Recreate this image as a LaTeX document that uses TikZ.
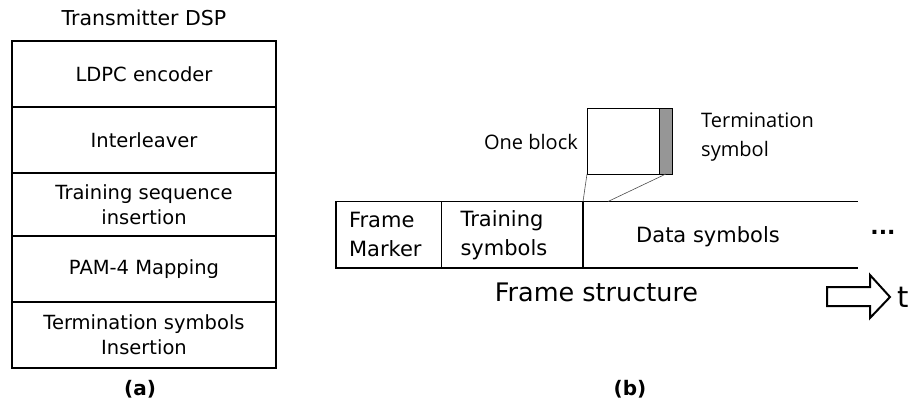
\documentclass[tikz,border=0pt]{standalone}
\usepackage{fontspec}
\setmainfont{DejaVu Sans}
\newfontfamily\blockfont{Open Sans}
\definecolor{termgray}{RGB}{150,150,150}
\tikzset{
  dspbox/.style={draw,line width=1.6pt,minimum width=264pt,inner sep=0pt,outer sep=0pt,
    align=center,font=\fontsize{19.5}{25}\selectfont},
  cell/.style={draw,line width=1.1pt,minimum height=66.5pt,inner ysep=0pt,outer sep=0pt,
    align=left,font=\fontsize{21}{29}\selectfont},
  blockbox/.style={draw,line width=0.9pt,minimum height=66pt,inner sep=0pt,outer sep=0pt},
  caption/.style={font=\fontsize{20}{24}\selectfont\bfseries}
}
\begin{document}
\begin{tikzpicture}[x=1pt,y=-1pt]
      \useasboundingbox (0,0) rectangle (912,409);
      \draw
        (144,18) node[font=\fontsize{20.5}{24}\selectfont] (title){Transmitter DSP}
        (144,74) node[dspbox,minimum height=66pt] (ldpc){LDPC encoder}
        (144,140) node[dspbox,minimum height=66pt] (intlv){Interleaver}
        (144,204.5) node[dspbox,minimum height=63pt] (train){Training sequence\\insertion}
        (144,269) node[dspbox,minimum height=66pt] (pam){PAM-4 Mapping}
        (144,335) node[dspbox,minimum height=66pt] (termins){Termination symbols\\Insertion}
        (140,389) node[caption] (capa){(a)};
      \draw
        (388.75,234.75) node[cell,inner xsep=13pt,text width=79.5pt] (marker){Frame\\Marker}
        (512.25,234.75) node[cell,inner xsep=19pt,text width=103.5pt] (trsym){Training\\symbols}
        (708,237) node[font=\fontsize{21}{29}\selectfont] (data){Data symbols}
        (883,232) node[font=\fontsize{22}{26}\selectfont\bfseries] (dots){...}
        (596.5,292) node[font=\fontsize{25.5}{30}\selectfont] (fstruct){Frame structure}
        (897,297) node[anchor=west,inner sep=0pt,font=\fontsize{29}{32}\selectfont] (time){t}
        (630,389) node[caption] (capb){(b)};
      \coordinate (dtop) at (858,201.5);
      \coordinate (dbot) at (858,268);
      \coordinate (split) at (608,201.5);
      \draw
        (623,141) node[blockbox,minimum width=72pt] (blk){}
        (blk.east) node[blockbox,anchor=west,minimum width=13.7pt,fill=termgray] (tsym){}
        (578,142) node[anchor=east,inner sep=0pt,font=\blockfont\fontsize{20}{24}\selectfont] (oneblk){One block}
        (701,137.5) node[anchor=west,inner sep=0pt,align=left,font=\blockfont\fontsize{20}{29}\selectfont] (tlabel){Termination\\symbol};
      \begin{scope}[line width=1.1pt]
        \draw (trsym.north east) to (dtop);
        \draw (trsym.south east) to (dbot);
      \end{scope}
      \begin{scope}[line width=0.6pt,black!70]
        \draw (blk.south west) to (trsym.north east);
        \draw (tsym.south) to (split);
      \end{scope}
      \draw[line width=2pt,line join=miter]
        (827,287) -- (870,287) -- (870,275) -- (890,297) -- (870,318) -- (870,306) -- (827,306) -- cycle;
    \end{tikzpicture}
\end{document}
